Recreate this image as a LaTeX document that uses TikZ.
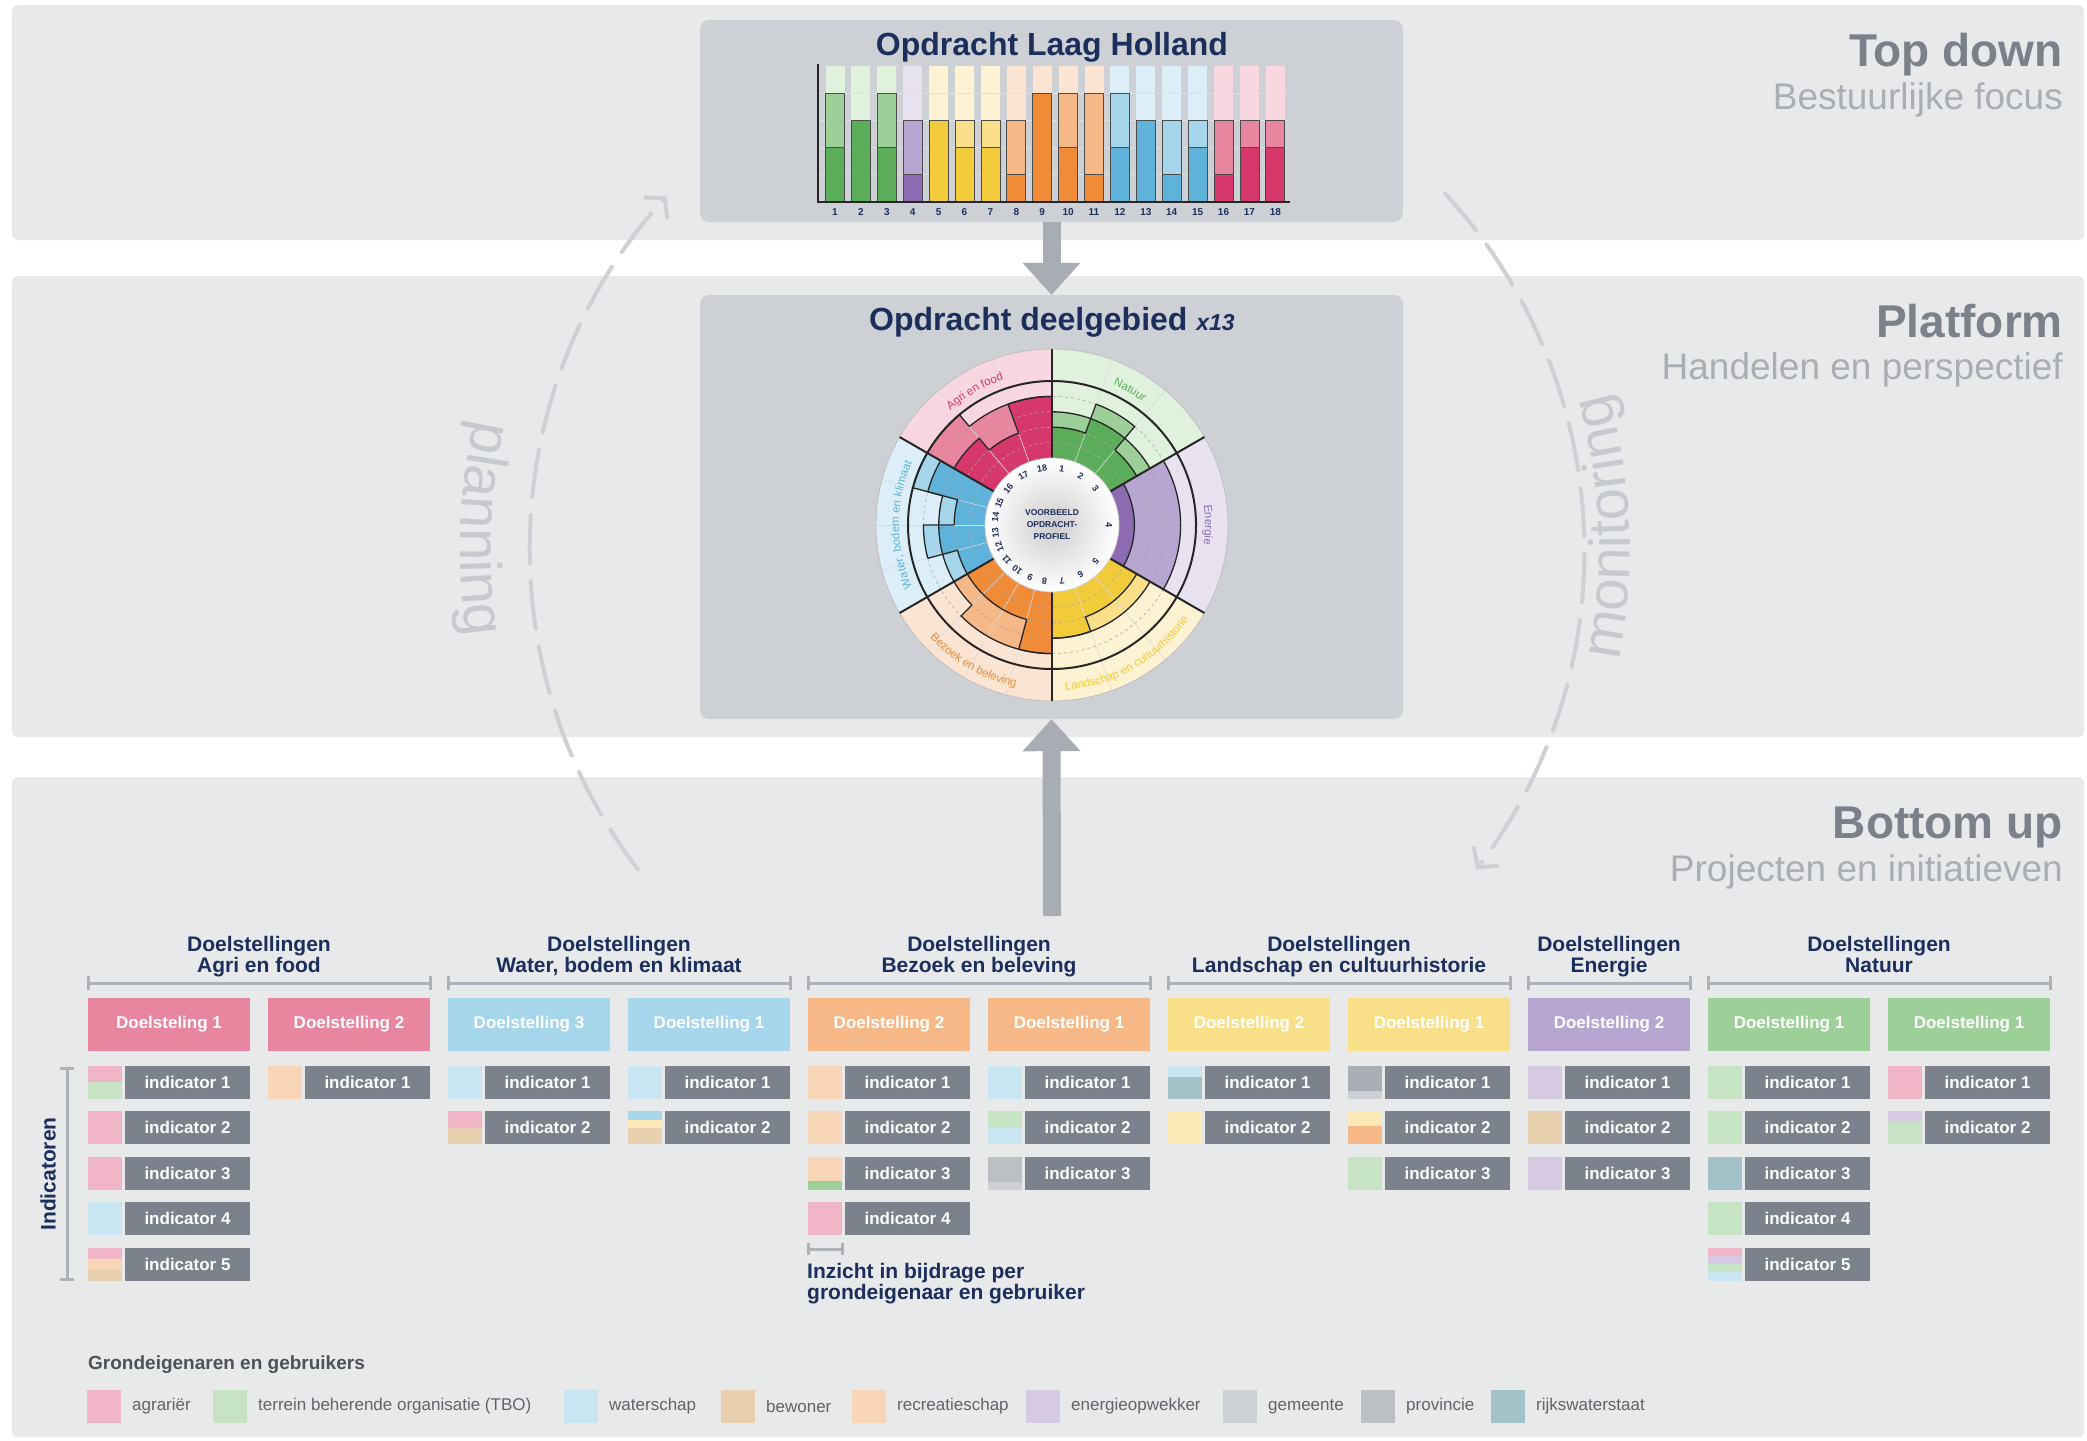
\documentclass[tikz,border=0pt]{standalone}
\usepackage{fontspec}
\setmainfont{Liberation Sans}
\usetikzlibrary{arrows.meta, positioning, decorations.text, calc}

% colours
\definecolor{panelc}{HTML}{E8E9EB}
\definecolor{boxc}{HTML}{CDD0D5}
\definecolor{navy}{HTML}{1C2E5C}
\definecolor{titlec}{HTML}{7B818A}
\definecolor{subc}{HTML}{A9AEB5}
\definecolor{arrc}{HTML}{A8ACB3}
\definecolor{loopc}{HTML}{CDD0D5}
\definecolor{looptxt}{HTML}{C6C9CF}
\definecolor{indc}{HTML}{7B828C}
\definecolor{brkc}{HTML}{ADB1B8}
\definecolor{legc}{HTML}{5F646B}
\definecolor{legt}{HTML}{4D525A}
% category colours (dark, medium, light)
\definecolor{gnD}{HTML}{5BAD5A}\definecolor{gnM}{HTML}{9DCF99}\definecolor{gnL}{HTML}{E0F1DD}
\definecolor{puD}{HTML}{8C6BB1}\definecolor{puM}{HTML}{B7A6D2}\definecolor{puL}{HTML}{E7E1F0}
\definecolor{yeD}{HTML}{F2CB3A}\definecolor{yeM}{HTML}{F8DF88}\definecolor{yeL}{HTML}{FDF2D2}
\definecolor{orD}{HTML}{F08B37}\definecolor{orM}{HTML}{F6B886}\definecolor{orL}{HTML}{FCE4D2}
\definecolor{blD}{HTML}{5FB2D9}\definecolor{blM}{HTML}{A5D6EB}\definecolor{blL}{HTML}{DCEFF8}
\definecolor{pkD}{HTML}{D6386B}\definecolor{pkM}{HTML}{E8859F}\definecolor{pkL}{HTML}{F8D7E1}
% owners and users
\definecolor{agr}{HTML}{F0B5C6}
\definecolor{tbo}{HTML}{C6E3C4}
\definecolor{wat}{HTML}{C9E5F1}
\definecolor{bew}{HTML}{E8CFAE}
\definecolor{rec}{HTML}{F9D5B8}
\definecolor{ene}{HTML}{D6CAE3}
\definecolor{gem}{HTML}{CDD0D4}
\definecolor{pro}{HTML}{BCBFC4}
\definecolor{rws}{HTML}{A2C1C8}
\definecolor{proD}{HTML}{AAAEB5}
\definecolor{yelL}{HTML}{FCE9B5}

\tikzset{
  panel/.style={fill=panelc, rounded corners=6pt},
  inbox/.style={fill=boxc, rounded corners=9pt, inner sep=0pt},
  bigtitle/.style={font=\fontsize{46}{46}\selectfont\bfseries, text=titlec, inner sep=0pt},
  subtitle/.style={font=\fontsize{37}{37}\selectfont, text=subc, inner sep=0pt},
  boxtitle/.style={font=\fontsize{32}{32}\selectfont\bfseries, text=navy, inner sep=0pt},
  grphead/.style={font=\fontsize{21}{21}\selectfont\bfseries, text=navy, inner sep=0pt},
  doel/.style={minimum width=162pt, minimum height=53pt, inner sep=0pt, text=white, font=\fontsize{17}{17}\selectfont\bfseries},
  ind/.style={fill=indc, minimum width=125pt, minimum height=33pt, inner sep=0pt, text=white, font=\fontsize{17}{17}\selectfont\bfseries},
  brk/.style={draw=brkc, line width=3pt},
  loopline/.style={draw=loopc, line width=4pt, line cap=round, dash pattern=on 48pt off 18pt},
  bigarrow/.style={draw=arrc, line width=18pt, -{Triangle[length=32pt,width=58pt,line width=0pt]}},
  barnum/.style={font=\fontsize{10}{10}\selectfont\bfseries, text=navy, inner sep=0pt},
  lvl/.style={draw=black!35, dashed, line width=0.6pt},
  outl/.style={draw=black!85, line width=1.3pt},
  legtext/.style={font=\fontsize{17}{17}\selectfont, text=legc, inner sep=0pt},
}

\newcommand{\ringfont}{\fontsize{11.5}{11.5}\selectfont}
% colour blocks in front of an indicator: column, row, colour/from/to
\newcommand{\kleur}[3]{%
  \foreach \cc/\ya/\yb in {#3}
    \fill[\cc] ({88+180*#1},{-1066-45.4*(#2-1)-\ya}) rectangle ({122+180*#1},{-1066-45.4*(#2-1)-\yb});}

\begin{document}
\begin{tikzpicture}[x=1pt,y=1pt]
\useasboundingbox (0,0) rectangle (2087,-1440);
\fill[white] (0,0) rectangle (2087,-1440);

% Panels
\fill[panel] (12,-5) rectangle (2084,-240);
\fill[panel] (12,-276) rectangle (2084,-737);
\fill[panel] (12,-777) rectangle (2084,-1437);

% Side titles
\node[bigtitle, anchor=base east] (td) at (2063,-66) {Top down};
\node[subtitle, anchor=base east] (tds) at (2063,-109) {Bestuurlijke focus};
\node[bigtitle, anchor=base east] (pf) at (2063,-337) {Platform};
\node[subtitle, anchor=base east] (pfs) at (2063,-379) {Handelen en perspectief};
\node[bigtitle, anchor=base east] (bu) at (2063,-838) {Bottom up};
\node[subtitle, anchor=base east] (bus) at (2063,-881) {Projecten en initiatieven};

% Planning / monitoring loop
\coordinate (cent) at (1057,-550);
\draw[loopline, -{Straight Barb[length=14pt,width=32pt]}] ([shift={(217.3:527)}]cent) arc[start angle=217.3, end angle=137.8, radius=527];
\draw[loopline, -{Straight Barb[length=14pt,width=32pt]}] ([shift={(42.6:527)}]cent) arc[start angle=42.6, end angle=-37.3, radius=527];
\path[decorate, decoration={text along path, text align=center, text color=looptxt,
  text={|\fontsize{58}{58}\selectfont|planning}}] ([shift={(157.9:597)}]cent) arc[start angle=157.9, end angle=197.9, radius=597];
\path[decorate, decoration={text along path, text align=center, text color=looptxt,
  text={|\fontsize{58}{58}\selectfont|monitoring}}] ([shift={(-17.6:573)}]cent) arc[start angle=-17.6, end angle=22.4, radius=573];

% Boxes
\node[inbox, minimum width=703pt, minimum height=202pt] (laag) at (1051.5,-121) {};
\node[boxtitle, anchor=base] (laagt) at (1052,-55) {Opdracht Laag Holland};
\node[inbox, minimum width=703pt, minimum height=424pt] (deel) at (1051.5,-507) {};
\node[boxtitle, anchor=base] (deelt) at (1052,-330) {Opdracht deelgebied {\fontsize{23}{23}\selectfont\itshape x13}};

% Arrows
\draw[bigarrow] (laag.south) -- (deel.north);
\coordinate (upfoot) at (1052,-916);
\draw[bigarrow] (upfoot) -- (deel.south);

% Bar chart
\foreach \k/\d/\m/\c in {1/2/4/gn,2/3/3/gn,3/2/4/gn,4/1/3/pu,5/3/3/ye,6/2/3/ye,7/2/3/ye,8/1/3/or,9/4/4/or,
  10/2/4/or,11/1/4/or,12/2/4/bl,13/3/3/bl,14/1/3/bl,15/2/3/bl,16/1/3/pk,17/2/3/pk,18/2/3/pk}
  \fill[\c L] ({835+25.9*(\k-1)-9.5},-202) rectangle ({835+25.9*(\k-1)+9.5},-66);
\foreach \l in {1,...,4}
  \draw[black!12, line width=0.8pt] (820,{-202+27.2*\l}) -- (1288,{-202+27.2*\l});
\foreach \k/\d/\m/\c in {1/2/4/gn,2/3/3/gn,3/2/4/gn,4/1/3/pu,5/3/3/ye,6/2/3/ye,7/2/3/ye,8/1/3/or,9/4/4/or,
  10/2/4/or,11/1/4/or,12/2/4/bl,13/3/3/bl,14/1/3/bl,15/2/3/bl,16/1/3/pk,17/2/3/pk,18/2/3/pk} {
  \filldraw[fill=\c M, draw=black!70, line width=0.8pt] ({835+25.9*(\k-1)-9.5},-202) rectangle ({835+25.9*(\k-1)+9.5},{-202+27.2*\m});
  \filldraw[fill=\c D, draw=black!70, line width=0.8pt] ({835+25.9*(\k-1)-9.5},-202) rectangle ({835+25.9*(\k-1)+9.5},{-202+27.2*\d});
  \node[barnum] (n\k) at ({835+25.9*(\k-1)},-212) {\k};
}
\draw[black!85, line width=1.6pt] (818,-64) -- (818,-202) -- (1290,-202);

% Wheel
\begin{scope}[shift={(1052,-525)}]
  \foreach \a/\b/\c in {90/30/gn,30/-30/pu,-30/-90/ye,-90/-150/or,-150/-210/bl,-210/-270/pk}
    \fill[\c L] (\a:67) arc[start angle=\a, end angle=\b, radius=67] -- (\b:176) arc[start angle=\b, end angle=\a, radius=176] -- cycle;
  \foreach \a/\b/\d/\m/\dn/\mn/\c in {90/70/2/3/3/4/gn,70/50/3/4/2/3/gn,50/30/2/3/2/3/gn,
      30/-30/1/4/1/4/pu,
      -30/-50/2/3/2/3/ye,-50/-70/2/3/3/3/ye,-70/-90/3/3/3/3/ye,
      -90/-105/4/4/2/4/or,-105/-120/2/4/2/4/or,-120/-135/2/4/2/3/or,-135/-150/2/3/2/3/or,
      -150/-165/2/3/3/4/bl,-165/-180/3/4/2/3/bl,-180/-195/2/3/4/5/bl,-195/-210/4/5/4/5/bl,
      -210/-230/3/5/2/4/pk,-230/-250/2/4/4/4/pk,-250/-270/4/4/4/4/pk} {
    \fill[\c M] (\a:67) arc[start angle=\a, end angle=\b, radius=67] -- (\b:{67+15.4*\m}) arc[start angle=\b, end angle=\a, radius={67+15.4*\m}] -- cycle;
    \fill[\c D] (\a:67) arc[start angle=\a, end angle=\b, radius=67] -- (\b:{67+15.4*\d}) arc[start angle=\b, end angle=\a, radius={67+15.4*\d}] -- cycle;
  }
  \foreach \r in {82.4,97.8,113.2,128.6} \draw[lvl] (0,0) circle (\r);
  \foreach \a in {70,50,-50,-70,-105,-120,-135,-165,-180,-195,-230,-250}
    \draw[white!70!gray, line width=0.6pt] (\a:67) -- (\a:176);
  \foreach \a/\b/\d/\m/\dn/\mn in {90/70/2/3/3/4,70/50/3/4/2/3,50/30/2/3/2/3,
      30/-30/1/4/1/4,
      -30/-50/2/3/2/3,-50/-70/2/3/3/3,-70/-90/3/3/3/3,
      -90/-105/4/4/2/4,-105/-120/2/4/2/4,-120/-135/2/4/2/3,-135/-150/2/3/2/3,
      -150/-165/2/3/3/4,-165/-180/3/4/2/3,-180/-195/2/3/4/5,-195/-210/4/5/4/5,
      -210/-230/3/5/2/4,-230/-250/2/4/4/4,-250/-270/4/4/4/4} {
    \draw[outl] (\a:{67+15.4*\m}) arc[start angle=\a, end angle=\b, radius={67+15.4*\m}] -- (\b:{67+15.4*\mn});
    \draw[outl] (\a:{67+15.4*\d}) arc[start angle=\a, end angle=\b, radius={67+15.4*\d}] -- (\b:{67+15.4*\dn});
  }
  \draw[black!85, line width=2pt] (0,0) circle (144);
  \draw[black!25, line width=0.8pt] (0,0) circle (176);
  \foreach \a in {90,30,-30,-90,-150,-210}
    \draw[black!85, line width=2pt] (\a:67) -- (\a:176);
  % inner disc
  \shade[inner color=black!20, outer color=white] (0,0) circle (67);
  \draw[black!20, line width=0.8pt] (0,0) circle (67);
  \node[align=center, font=\fontsize{8.5}{12}\selectfont\bfseries, text=navy, inner sep=0pt] (vb) at (0,0) {VOORBEELD\\OPDRACHT-\\PROFIEL};
  \foreach \k/\w in {1/80,2/60,3/40,4/0,5/-40,6/-60,7/-80,8/-97.5,9/-112.5,10/-127.5,11/-142.5,12/-157.5,13/-172.5,14/172.5,15/157.5,16/140,17/120,18/100}
    \node[rotate=\w-90, font=\fontsize{9}{9}\selectfont\bfseries, text=navy, inner sep=0pt] (w\k) at (\w:57) {\k};
  % ring labels
  \path[decorate, decoration={text along path, text align=center, text color=pkD, text={|\ringfont|Agri en food}}] (150:153) arc[start angle=150, end angle=90, radius=153];
  \path[decorate, decoration={text along path, text align=center, text color=gnD, text={|\ringfont|Natuur}}] (90:153) arc[start angle=90, end angle=30, radius=153];
  \path[decorate, decoration={text along path, text align=center, text color=puD, text={|\ringfont|Energie}}] (30:153) arc[start angle=30, end angle=-30, radius=153];
  \path[decorate, decoration={text along path, text align=center, text color=blD, text={|\ringfont|Water, bodem en klimaat}}] (210:153) arc[start angle=210, end angle=150, radius=153];
  \path[decorate, decoration={text along path, text align=center, text color=yeD, text={|\ringfont|Landschap en cultuurhistorie}}] (-90:166) arc[start angle=-90, end angle=-30, radius=166];
  \path[decorate, decoration={text along path, text align=center, text color=orD, text={|\ringfont|Bezoek en beleving}}] (-150:166) arc[start angle=-150, end angle=-90, radius=166];
\end{scope}

% Goal groups
\foreach \xa/\xb/\nm [count=\g] in {88/430/Agri en food, 448/790/{Water, bodem en klimaat}, 808/1150/Bezoek en beleving,
    1168/1510/Landschap en cultuurhistorie, 1528/1690/Energie, 1708/2050/Natuur} {
  \node[grphead, anchor=base] (g\g) at ({(\xa+\xb)/2},-951) {Doelstellingen};
  \node[grphead, anchor=base] (gn\g) at ({(\xa+\xb)/2},-972) {\nm};
  \draw[brk] (\xa,-983) -- (\xb,-983);
  \draw[brk] (\xa,-976) -- (\xa,-990);
  \draw[brk] (\xb,-976) -- (\xb,-990);
}

% Goals
\foreach \k/\lab/\c in {0/Doelsteling 1/pk, 1/Doelstelling 2/pk, 2/Doelstelling 3/bl, 3/Doelstelling 1/bl,
    4/Doelstelling 2/or, 5/Doelstelling 1/or, 6/Doelstelling 2/ye, 7/Doelstelling 1/ye,
    8/Doelstelling 2/pu, 9/Doelstelling 1/gn, 10/Doelstelling 1/gn}
  \node[doel, fill=\c M] (d\k) at ({169+180*\k},-1024.5) {\lab};

% Indicators
\foreach \k/\n in {0/5,1/1,2/2,3/2,4/4,5/3,6/2,7/3,8/3,9/5,10/2}
  \foreach \r in {1,...,\n}
    \node[ind] (i\k-\r) at ({187.5+180*\k},{-1082.5-45.4*(\r-1)}) {indicator \r};

\kleur{0}{1}{agr/0/16, tbo/16/33}
\kleur{0}{2}{agr/0/33}
\kleur{0}{3}{agr/0/33}
\kleur{0}{4}{wat/0/33}
\kleur{0}{5}{agr/0/11, rec/11/22, bew/22/33}
\kleur{1}{1}{rec/0/33}
\kleur{2}{1}{wat/0/33}
\kleur{2}{2}{agr/0/17, bew/17/33}
\kleur{3}{1}{wat/0/33}
\kleur{3}{2}{blM/0/9, yelL/9/17, bew/17/33}
\kleur{4}{1}{rec/0/33}
\kleur{4}{2}{rec/0/33}
\kleur{4}{3}{rec/0/24, gnM/24/33}
\kleur{4}{4}{agr/0/33}
\kleur{5}{1}{wat/0/33}
\kleur{5}{2}{tbo/0/17, wat/17/33}
\kleur{5}{3}{pro/0/25, gem/25/33}
\kleur{6}{1}{wat/0/11, rws/11/33}
\kleur{6}{2}{yelL/0/33}
\kleur{7}{1}{proD/0/25, gem/25/33}
\kleur{7}{2}{yelL/0/15, orM/15/33}
\kleur{7}{3}{tbo/0/33}
\kleur{8}{1}{ene/0/33}
\kleur{8}{2}{bew/0/33}
\kleur{8}{3}{ene/0/33}
\kleur{9}{1}{tbo/0/33}
\kleur{9}{2}{tbo/0/33}
\kleur{9}{3}{rws/0/33}
\kleur{9}{4}{tbo/0/33}
\kleur{9}{5}{agr/0/8, ene/8/16, tbo/16/24, wat/24/33}
\kleur{10}{1}{agr/0/33}
\kleur{10}{2}{ene/0/10, tbo/10/33}

% Indicatoren bracket
\draw[brk] (67,-1068) -- (67,-1279);
\draw[brk] (60,-1068) -- (74,-1068);
\draw[brk] (60,-1279) -- (74,-1279);
\node[grphead, rotate=90] (indlab) at (48,-1174) {Indicatoren};

% Contribution note
\draw[brk] (808,-1249) -- (842,-1249);
\draw[brk] (808,-1243) -- (808,-1255);
\draw[brk] (842,-1243) -- (842,-1255);
\node[grphead, anchor=base west] (inz1) at (807,-1278) {Inzicht in bijdrage per};
\node[grphead, anchor=base west] (inz2) at (807,-1299) {grondeigenaar en gebruiker};

% Legend
\node[font=\fontsize{19}{19}\selectfont\bfseries, text=legt, inner sep=0pt, anchor=base west] (legtitle) at (88,-1369) {Grondeigenaren en gebruikers};
\foreach \x/\c/\t [count=\j] in {87/agr/agrariër, 213/tbo/{terrein beherende organisatie (TBO)}, 564/wat/waterschap,
    721/bew/bewoner, 852/rec/recreatieschap, 1026/ene/energieopwekker, 1223/gem/gemeente, 1361/pro/provincie, 1491/rws/rijkswaterstaat} {
  \fill[\c] (\x,-1390) rectangle ++(34,-33);
  \node[legtext, anchor=west] (lg\j) at (\x+45,-1406.5) {\t};
}
\end{tikzpicture}
\end{document}
